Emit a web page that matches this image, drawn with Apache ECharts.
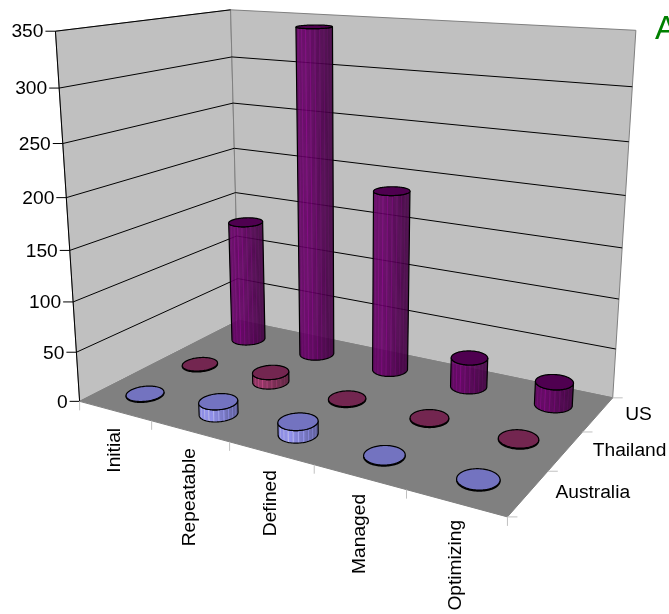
<!DOCTYPE html>
<html>
<head>
<meta charset="utf-8">
<script src="https://cdn.jsdelivr.net/npm/echarts@6/dist/echarts.min.js"></script>
<style>
  html, body { margin: 0; padding: 0; background: #fff; }
  #chart { width: 669px; height: 614px; overflow: hidden; }
</style>
</head>
<body>
<div id="chart"></div>
<script>
const categories = ['Initial', 'Repeatable', 'Defined', 'Managed', 'Optimizing'];
const depths = ['Australia', 'Thailand', 'US'];
const valueTicks = [0, 50, 100, 150, 200, 250, 300, 350];
const australia = [1, 12, 12, 1, 1];
const thailand = [1, 10, 1, 1, 1];
const us = [132, 342, 187, 30, 23];

// cube corners on screen: [u, d, v, px, py]
const frameCorners = [
  [0, 0, 0, 79.5, 401.7],
  [1, 0, 0, 507.3, 516.7],
  [1, 1, 0, 612.7, 398],
  [0, 1, 0, 239, 320],
  [0, 0, 1, 55.7, 31],
  [0, 1, 1, 230.3, 10],
  [1, 1, 1, 636, 30.3]
];

const FONT = '19.2px "Liberation Sans", Arial, sans-serif';
const gridBox = { left: 0, top: 0, width: 500, height: 350 };
const radiusU = 0.04;
const radiusD = 0.072;
const RING = 96;

// least squares fit of the perspective matrix from the corners
function fitProjection(pts) {
  const rows = [];
  const rhs = [];
  pts.forEach(([u, d, v, x, y]) => {
    const px = x / 100;
    const py = y / 100;
    rows.push([u, d, v, 1, 0, 0, 0, 0, -px * u, -px * d, -px * v]);
    rhs.push(px);
    rows.push([0, 0, 0, 0, u, d, v, 1, -py * u, -py * d, -py * v]);
    rhs.push(py);
  });
  const n = 11;
  const m = [];
  for (let i = 0; i < n; i++) {
    m.push([]);
    for (let j = 0; j < n; j++) {
      let s = i === j ? 1e-9 : 0;
      rows.forEach((r) => { s += r[i] * r[j]; });
      m[i].push(s);
    }
    let s = 0;
    rows.forEach((r, k) => { s += r[i] * rhs[k]; });
    m[i].push(s);
  }
  for (let c = 0; c < n; c++) {
    let best = c;
    for (let r = c + 1; r < n; r++) if (Math.abs(m[r][c]) > Math.abs(m[best][c])) best = r;
    [m[c], m[best]] = [m[best], m[c]];
    for (let r = 0; r < n; r++) {
      if (r === c) continue;
      const f = m[r][c] / m[c][c];
      for (let k = c; k <= n; k++) m[r][k] -= f * m[c][k];
    }
  }
  return m.map((r, i) => r[n] / r[i]);
}

const P = fitProjection(frameCorners);

function project(u, d, v) {
  const w = P[8] * u + P[9] * d + P[10] * v + 1;
  return [
    100 * (P[0] * u + P[1] * d + P[2] * v + P[3]) / w,
    100 * (P[4] * u + P[5] * d + P[6] * v + P[7]) / w
  ];
}

// goes through the hidden cartesian axes to get 0..1 positions
function toUnit(api, i, value) {
  const p = api.coord([i, value]);
  return [
    (p[0] - gridBox.left) / gridBox.width,
    (gridBox.top + gridBox.height - p[1]) / gridBox.height
  ];
}

function poly(points, fill, stroke, lineWidth) {
  return {
    type: 'polygon',
    silent: true,
    shape: { points },
    style: { fill: fill || 'none', stroke: stroke || 'none', lineWidth: lineWidth || 0 }
  };
}

function seg(a, b, stroke) {
  return {
    type: 'line',
    silent: true,
    shape: { x1: a[0], y1: a[1], x2: b[0], y2: b[1] },
    style: { stroke, lineWidth: 1, fill: 'none' }
  };
}

function label(text, x, y, align, extra) {
  return Object.assign({
    type: 'text',
    silent: true,
    x,
    y,
    style: { text, fill: '#000', font: FONT, align, verticalAlign: 'middle' }
  }, extra);
}

function renderFrame() {
  return {
    type: 'group',
    children: [
      poly([project(0, 0, 0), project(0, 1, 0), project(0, 1, 1), project(0, 0, 1)], '#c0c0c0', '#808080', 1),
      poly([project(0, 1, 0), project(1, 1, 0), project(1, 1, 1), project(0, 1, 1)], '#c0c0c0', '#808080', 1),
      seg(project(0, 0, 0), project(0, 0, 1), '#000')
    ]
  };
}

function renderFloor() {
  return {
    type: 'group',
    children: [poly([project(0, 0, 0), project(1, 0, 0), project(1, 1, 0), project(0, 1, 0)], '#808080', '#808080', 1)]
  };
}

function renderValueTick(params, api) {
  const v = toUnit(api, 0, api.value(1))[1];
  const a = project(0, 0, v);
  const children = [seg([a[0] - 10, a[1]], a, '#000')];
  if (v > 0) {
    children.push(seg(a, project(0, 1, v), '#000'));
    if (v < 1) children.push(seg(project(0, 1, v), project(1, 1, v), '#000'));
  }
  children.push(label(String(api.value(1)), a[0] - 12, a[1] + 1, 'right'));
  return { type: 'group', children };
}

function renderCategoryTick(params, api) {
  const i = api.value(0);
  const u = toUnit(api, i, 0)[0];
  const mid = project(u, 0, 0);
  const children = [
    label(categories[i], mid[0], mid[1] + 17, 'right', { rotation: Math.PI / 2 })
  ];
  const t0 = project(i / categories.length, 0, 0);
  children.push(seg(t0, [t0[0], t0[1] + 9], '#c0c0c0'));
  if (i === categories.length - 1) {
    const t1 = project(1, 0, 0);
    children.push(seg(t1, [t1[0], t1[1] + 9], '#c0c0c0'));
  }
  return { type: 'group', children };
}

function renderDepthTick(params, api) {
  const k = api.value(0);
  const mid = project(1, (k + 0.5) / depths.length, 0);
  const t0 = project(1, k / depths.length, 0);
  const children = [
    seg(t0, [t0[0] + 10, t0[1]], '#c0c0c0'),
    label(depths[k], mid[0] + 27, mid[1], 'left')
  ];
  if (k === depths.length - 1) {
    const t1 = project(1, 1, 0);
    children.push(seg(t1, [t1[0] + 10, t1[1]], '#c0c0c0'));
  }
  return { type: 'group', children };
}

function shade(rgb, t, j) {
  let f = t < 0.25 ? 0.95 + t * 0.4 : 1.05 - (t - 0.25) * 0.75;
  if (j % 4 === 0) f *= 1.35;
  return 'rgba(' + rgb.map((c) => Math.min(255, Math.round(c * f))).join(',') + ',0.7)';
}

function cylinderRenderer(depthIndex, sideRgb, topColor) {
  return function (params, api) {
    const i = api.value(0);
    const base = toUnit(api, i, 0);
    const top = toUnit(api, i, api.value(1));
    const d = (depthIndex + 0.5) / depths.length;
    const lower = [];
    const upper = [];
    for (let k = 0; k < RING; k++) {
      const a = (k / RING) * Math.PI * 2;
      const cu = base[0] + radiusU * Math.cos(a);
      const cd = d + radiusD * Math.sin(a);
      lower.push(project(cu, cd, 0));
      upper.push(project(cu, cd, top[1]));
    }
    let iL = 0;
    let iR = 0;
    lower.forEach((p, k) => {
      if (p[0] < lower[iL][0]) iL = k;
      if (p[0] > lower[iR][0]) iR = k;
    });
    const front = [];
    for (let k = iL; k !== iR; k = (k + 1) % RING) front.push(k);
    front.push(iR);
    const x0 = lower[iL][0];
    const x1 = lower[iR][0];
    const outline = front.map((k) => lower[k]).concat(front.map((k) => upper[k]).reverse());
    const bodyRgb = sideRgb.map((c) => Math.round(c * 0.85));
    // solid-ish body first so the facet seams don't let the wall through
    const children = [poly(outline, 'rgba(' + bodyRgb.join(',') + ',0.75)')];
    front.slice(0, -1).forEach((k, j) => {
      const n = front[j + 1];
      const t = ((lower[k][0] + lower[n][0]) / 2 - x0) / (x1 - x0);
      children.push(poly([lower[k], lower[n], upper[n], upper[k]], shade(sideRgb, t, j)));
    });
    children.push(poly(outline, 'none', '#000', 1.2));
    children.push(poly(upper, topColor, '#000', 1.2));
    return { type: 'group', children };
  };
}

function custom(name, data, renderItem) {
  return { type: 'custom', name, data, renderItem, coordinateSystem: 'cartesian2d', silent: true, animation: false };
}

function rowData(values) {
  return values.map((v, i) => [i, v]);
}

const chart = echarts.init(document.getElementById('chart'));
chart.setOption({
  animation: false,
  backgroundColor: '#fff',
  title: {
    text: 'A',
    left: 650,
    top: 8,
    textStyle: { color: '#008000', fontSize: 33, fontWeight: 'normal', fontFamily: '"Liberation Sans", Arial, sans-serif' }
  },
  grid: gridBox,
  xAxis: { type: 'category', data: categories, show: false },
  yAxis: { type: 'value', min: 0, max: 350, interval: 50, show: false },
  series: [
    custom('frame', [[0, 0]], renderFrame),
    custom('valueAxis', valueTicks.map((v) => [0, v]), renderValueTick),
    custom('floor', [[0, 0]], renderFloor),
    custom('categoryAxis', categories.map((c, i) => [i, 0]), renderCategoryTick),
    custom('depthAxis', depths.map((c, k) => [k, 0]), renderDepthTick),
    custom('US', rowData(us), cylinderRenderer(2, [102, 0, 102], '#4f0050')),
    custom('Thailand', rowData(thailand), cylinderRenderer(1, [153, 51, 102], '#732650')),
    custom('Australia', rowData(australia), cylinderRenderer(0, [153, 153, 255], '#7373c0'))
  ]
});
</script>
</body>
</html>
